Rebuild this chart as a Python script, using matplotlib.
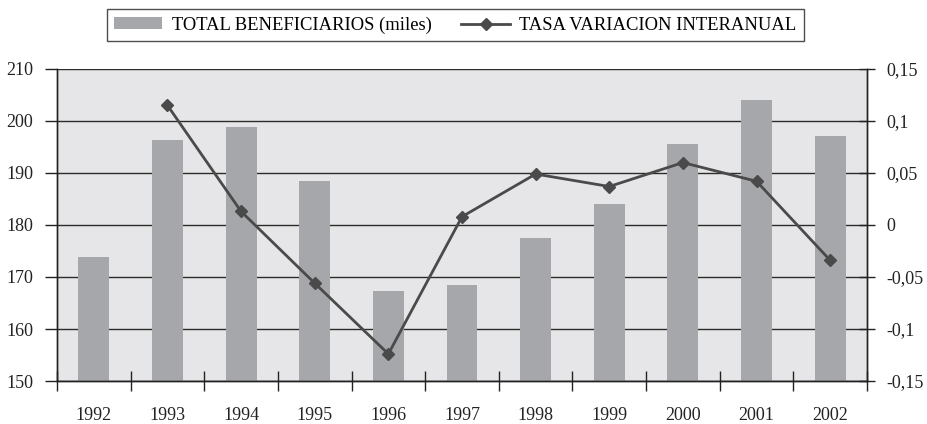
import matplotlib.pyplot as plt
import numpy as np

# Data
years = ['1992', '1993', '1994', '1995', '1996', '1997', '1998', '1999', '2000', '2001', '2002']
beneficiarios = [173.8, 196.3, 198.8, 188.5, 167.3, 168.5, 177.5, 184.0, 195.6, 204.0, 197.1]
tasa_years = ['1993', '1994', '1995', '1996', '1997', '1998', '1999', '2000', '2001', '2002']
tasa = [0.115, 0.013, -0.056, -0.124, 0.008, 0.049, 0.037, 0.060, 0.042, -0.034]

left_ticks = [150, 160, 170, 180, 190, 200, 210]
right_ticks = [-0.15, -0.1, -0.05, 0, 0.05, 0.1, 0.15]
right_labels = ['-0,15', '-0,1', '-0,05', '0', '0,05', '0,1', '0,15']

plt.rcParams['font.family'] = ['Liberation Serif', 'DejaVu Serif']

def main():
    fig = plt.figure(figsize=(9.27, 4.24), dpi=100)
    ax = fig.add_axes([0.0615, 0.1014, 0.8738, 0.7359])
    ax.set_facecolor('#e6e6e8')

    x = np.arange(len(years))
    bars = ax.bar(x, beneficiarios, width=0.42, color='#a6a7aa', zorder=2,
                  label='TOTAL BENEFICIARIOS (miles)')
    ax.set_ylim(150, 210)
    ax.set_xlim(-0.5, len(years) - 0.5)
    ax.set_yticks(left_ticks)
    ax.set_axisbelow(True)
    ax.yaxis.grid(True, color='#2b2b2b', linewidth=1.0)

    # category labels at centres, tick marks at boundaries
    ax.set_xticks(x)
    ax.set_xticklabels(years)
    ax.set_xticks(np.arange(-0.5, len(years), 1.0), minor=True)
    ax.tick_params(axis='x', which='major', length=0, pad=19, labelsize=13, labelcolor='#222222')
    ax.tick_params(axis='x', which='minor', direction='inout', length=14, width=1, color='#222222')
    ax.tick_params(axis='y', direction='out', length=9, width=1, labelsize=13,
                   labelcolor='#222222', color='#222222', pad=8)

    ax2 = ax.twinx()
    tx = [years.index(y) for y in tasa_years]
    line, = ax2.plot(tx, tasa, color='#4a4a4a', linewidth=2, marker='D', markersize=6.5,
                     label='TASA VARIACION INTERANUAL')
    ax2.set_ylim(-0.15, 0.15)
    ax2.set_yticks(right_ticks)
    ax2.set_yticklabels(right_labels)
    ax2.tick_params(axis='y', direction='inout', length=12, width=1, labelsize=13,
                    labelcolor='#222222', color='#222222', pad=8)

    for a in (ax, ax2):
        a.spines['top'].set_visible(False)
        for s in ('left', 'right', 'bottom'):
            a.spines[s].set_color('#222222')
            a.spines[s].set_linewidth(1)

    leg = fig.legend(handles=[bars, line], loc='center', bbox_to_anchor=(0.491, 0.941),
                     ncol=2, frameon=True, fancybox=False, fontsize=13.4,
                     handlelength=2.6, handleheight=0.55, handletextpad=0.5,
                     columnspacing=1.6, borderpad=0.4,
                     edgecolor='#222222')
    leg.get_frame().set_linewidth(1)

    fig.savefig('out.png', dpi=100)

if __name__ == '__main__':
    main()
